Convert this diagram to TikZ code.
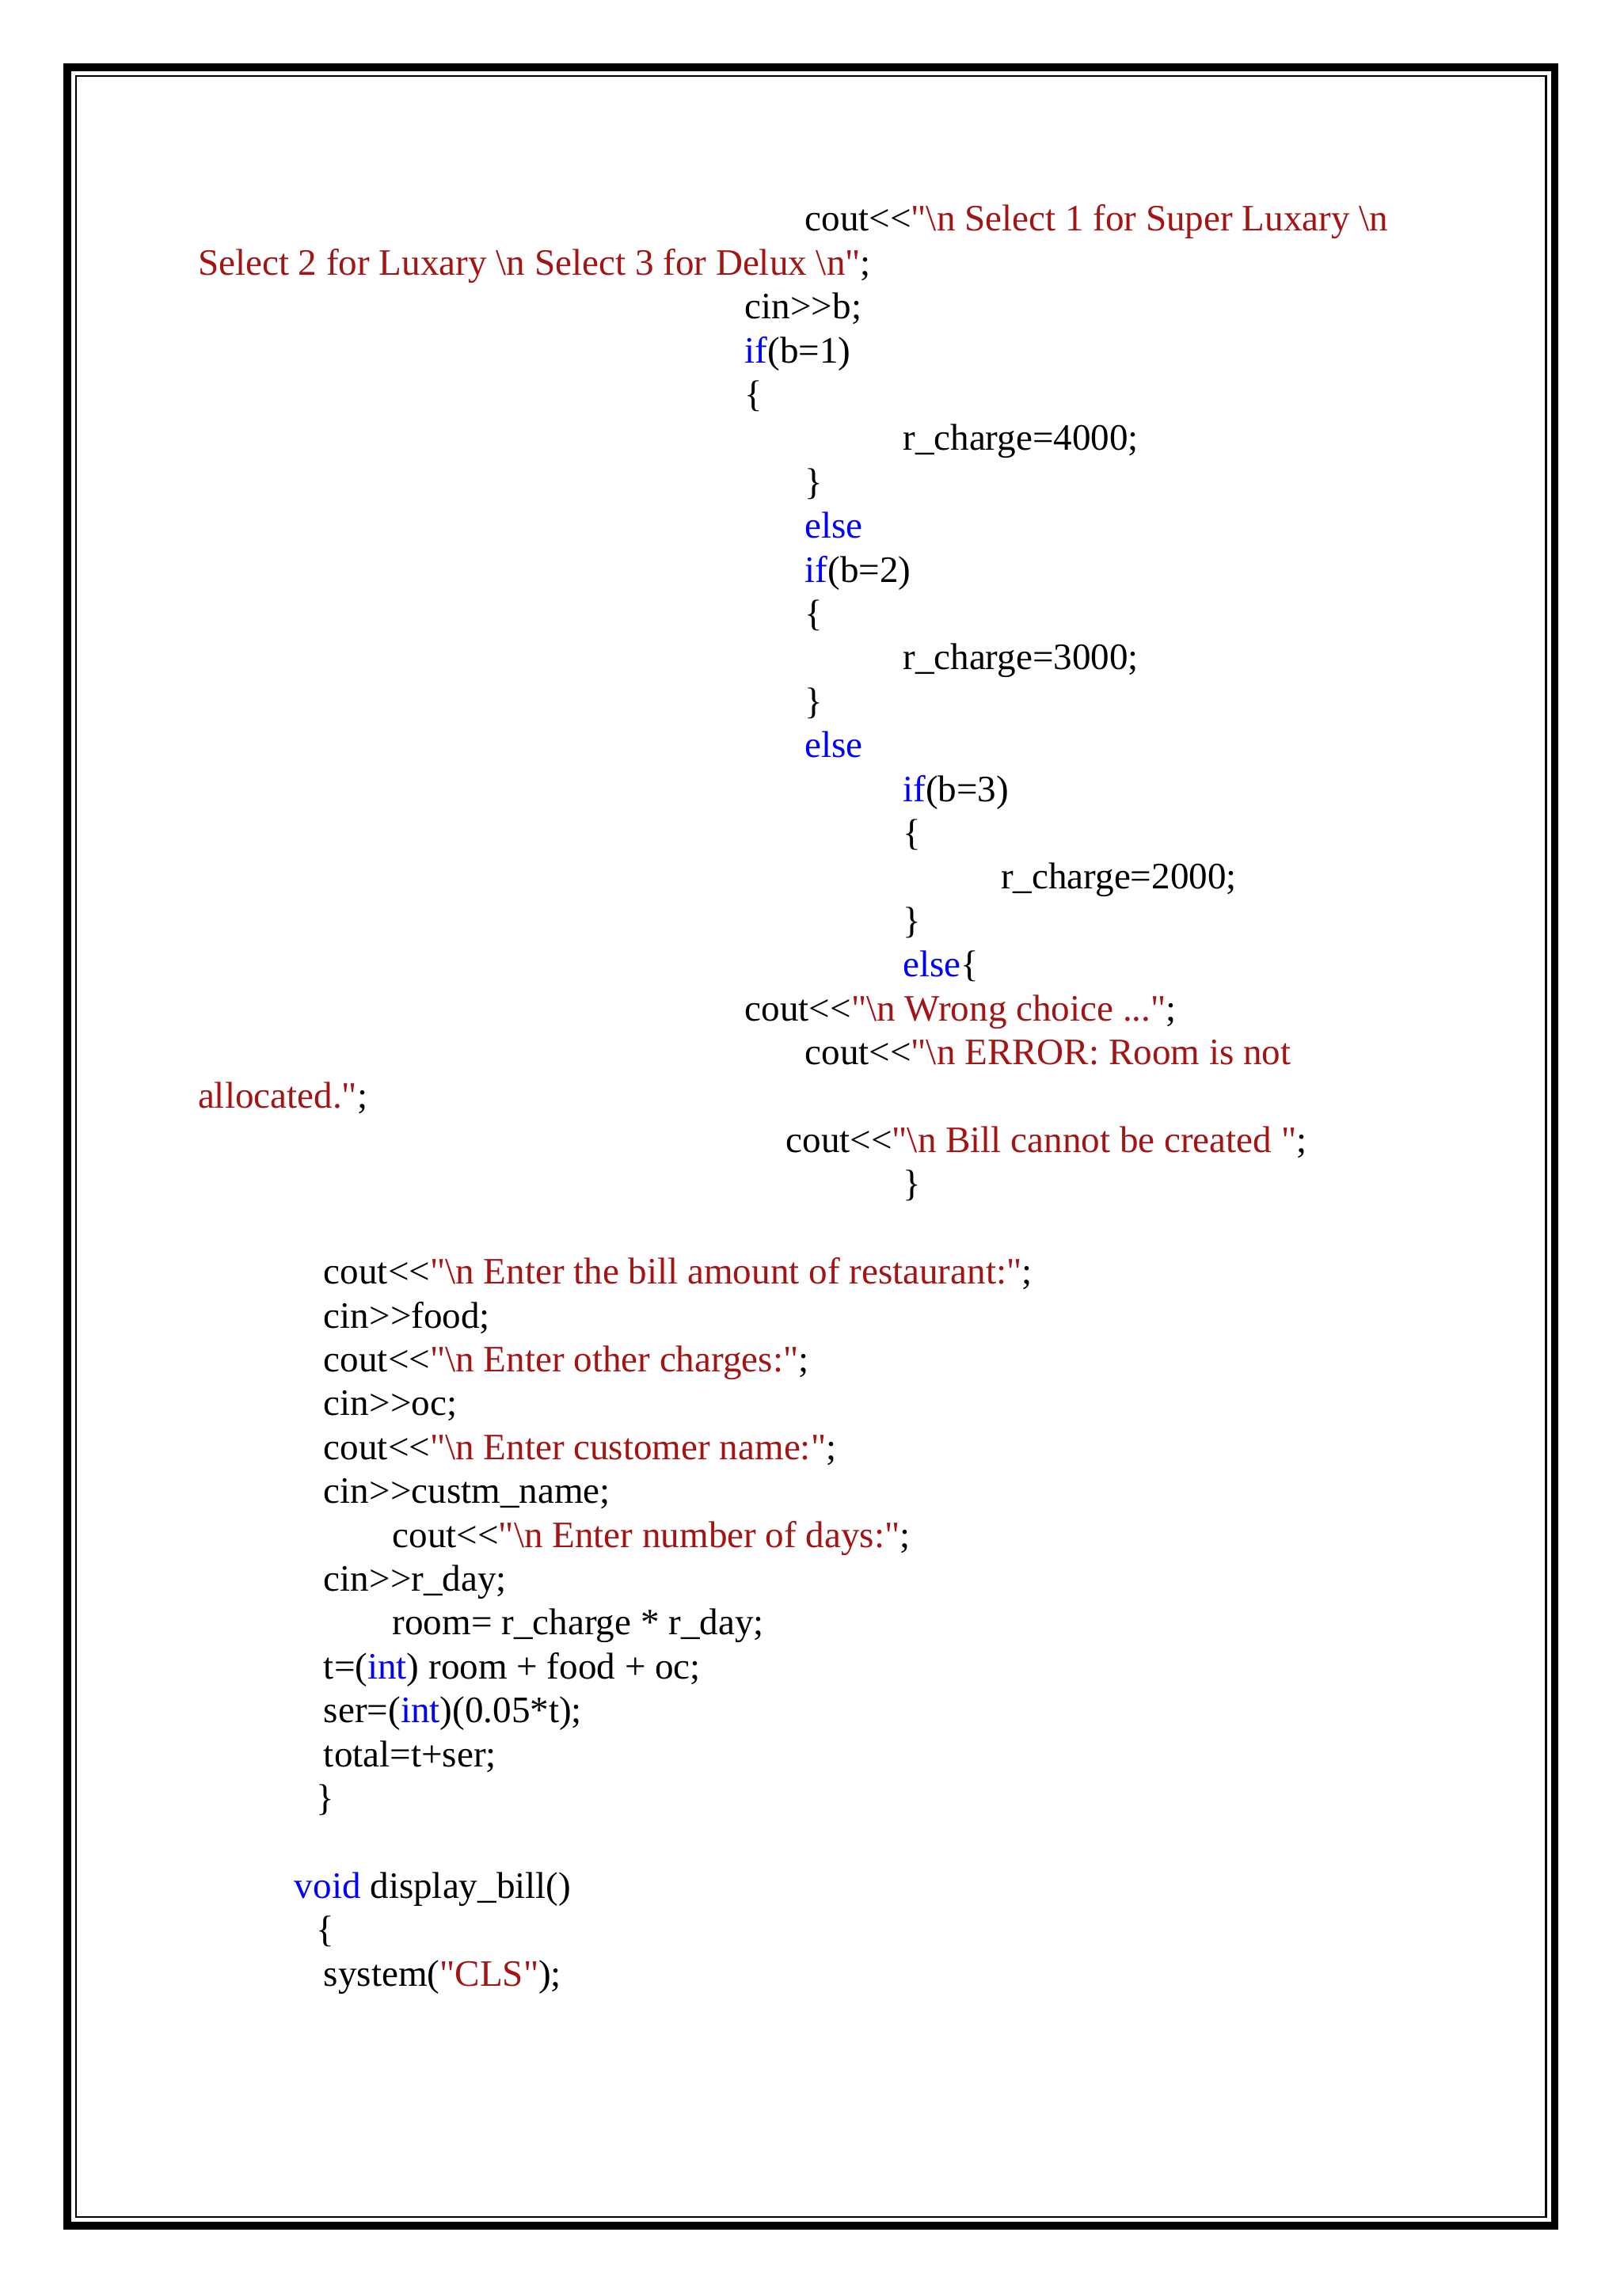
\documentclass[tikz,border=0pt]{standalone}
\usepackage{fontspec}
\newfontfamily\cf{Liberation Serif}
\definecolor{cr}{HTML}{A31515}
\definecolor{cb}{HTML}{0000FF}
\newcommand{\ltlt}{<\kern0pt<}
\newcommand{\gtgt}{>\kern0pt>}
\newcommand{\bsl}{\textbackslash}
\newcommand{\R}[1]{\textcolor{cr}{#1}}
\newcommand{\B}[1]{\textcolor{cb}{#1}}
\begin{document}
\begin{tikzpicture}[x=0.5pt,y=-0.5pt,
  ln/.style={anchor=base west,inner sep=0pt,font=\cf\fontsize{12.75}{15}\selectfont}]
\useasboundingbox (0,0) rectangle (1110,1568);
\fill[white] (0,0) rectangle (1110,1568);
\draw[line width=2.6pt] (46,46) rectangle (1063,1522);
\draw[line width=0.7pt] (52,52) rectangle (1057,1516);
\def\L(#1,#2)#3#4{\node[ln] (#3) at (#1,#2+8) {#4};}
\L(550,150){l1}{cout\ltlt\R{"\bsl n Select 1 for Super Luxary \bsl n}}
\L(135,180){l2}{\R{Select 2 for Luxary \bsl n Select 3 for Delux \bsl n"};}
\L(509,210){l3}{cin\gtgt b;}
\L(509,240){l4}{\B{if}(b=1)}
\L(509,270){l5}{\{}
\L(617,300){l6}{r\_charge=4000;}
\L(550,330){l7}{\}}
\L(550,360){l8}{\B{else}}
\L(550,390){l9}{\B{if}(b=2)}
\L(550,420){l10}{\{}
\L(617,450){l11}{r\_charge=3000;}
\L(550,480){l12}{\}}
\L(550,510){l13}{\B{else}}
\L(617,540){l14}{\B{if}(b=3)}
\L(617,570){l15}{\{}
\L(684,600){l16}{r\_charge=2000;}
\L(617,630){l17}{\}}
\L(617,660){l18}{\B{else}\{}
\L(509,690){l19}{cout\ltlt\R{"\bsl n Wrong choice ..."};}
\L(550,720){l20}{cout\ltlt\R{"\bsl n ERROR: Room is not}}
\L(135,750){l21}{\R{allocated."};}
\L(537,780){l22}{cout\ltlt\R{"\bsl n Bill cannot be created "};}
\L(617,810){l23}{\}}
\L(221,870){l24}{cout\ltlt\R{"\bsl n Enter the bill amount of restaurant:"};}
\L(221,900){l25}{cin\gtgt food;}
\L(221,930){l26}{cout\ltlt\R{"\bsl n Enter other charges:"};}
\L(221,960){l27}{cin\gtgt oc;}
\L(221,990){l28}{cout\ltlt\R{"\bsl n Enter customer name:"};}
\L(221,1020){l29}{cin\gtgt custm\_name;}
\L(268,1050){l30}{cout\ltlt\R{"\bsl n Enter number of days:"};}
\L(221,1080){l31}{cin\gtgt r\_day;}
\L(268,1110){l32}{room= r\_charge * r\_day;}
\L(221,1140){l33}{t=(\B{int}) room + food + oc;}
\L(221,1170){l34}{ser=(\B{int})(0.05*t);}
\L(221,1200){l35}{total=t+ser;}
\L(216,1230){l36}{\}}
\L(201,1290){l37}{\B{void} display\_bill()}
\L(216,1320){l38}{\{}
\L(221,1350){l39}{system(\R{"CLS"});}
\end{tikzpicture}
\end{document}
